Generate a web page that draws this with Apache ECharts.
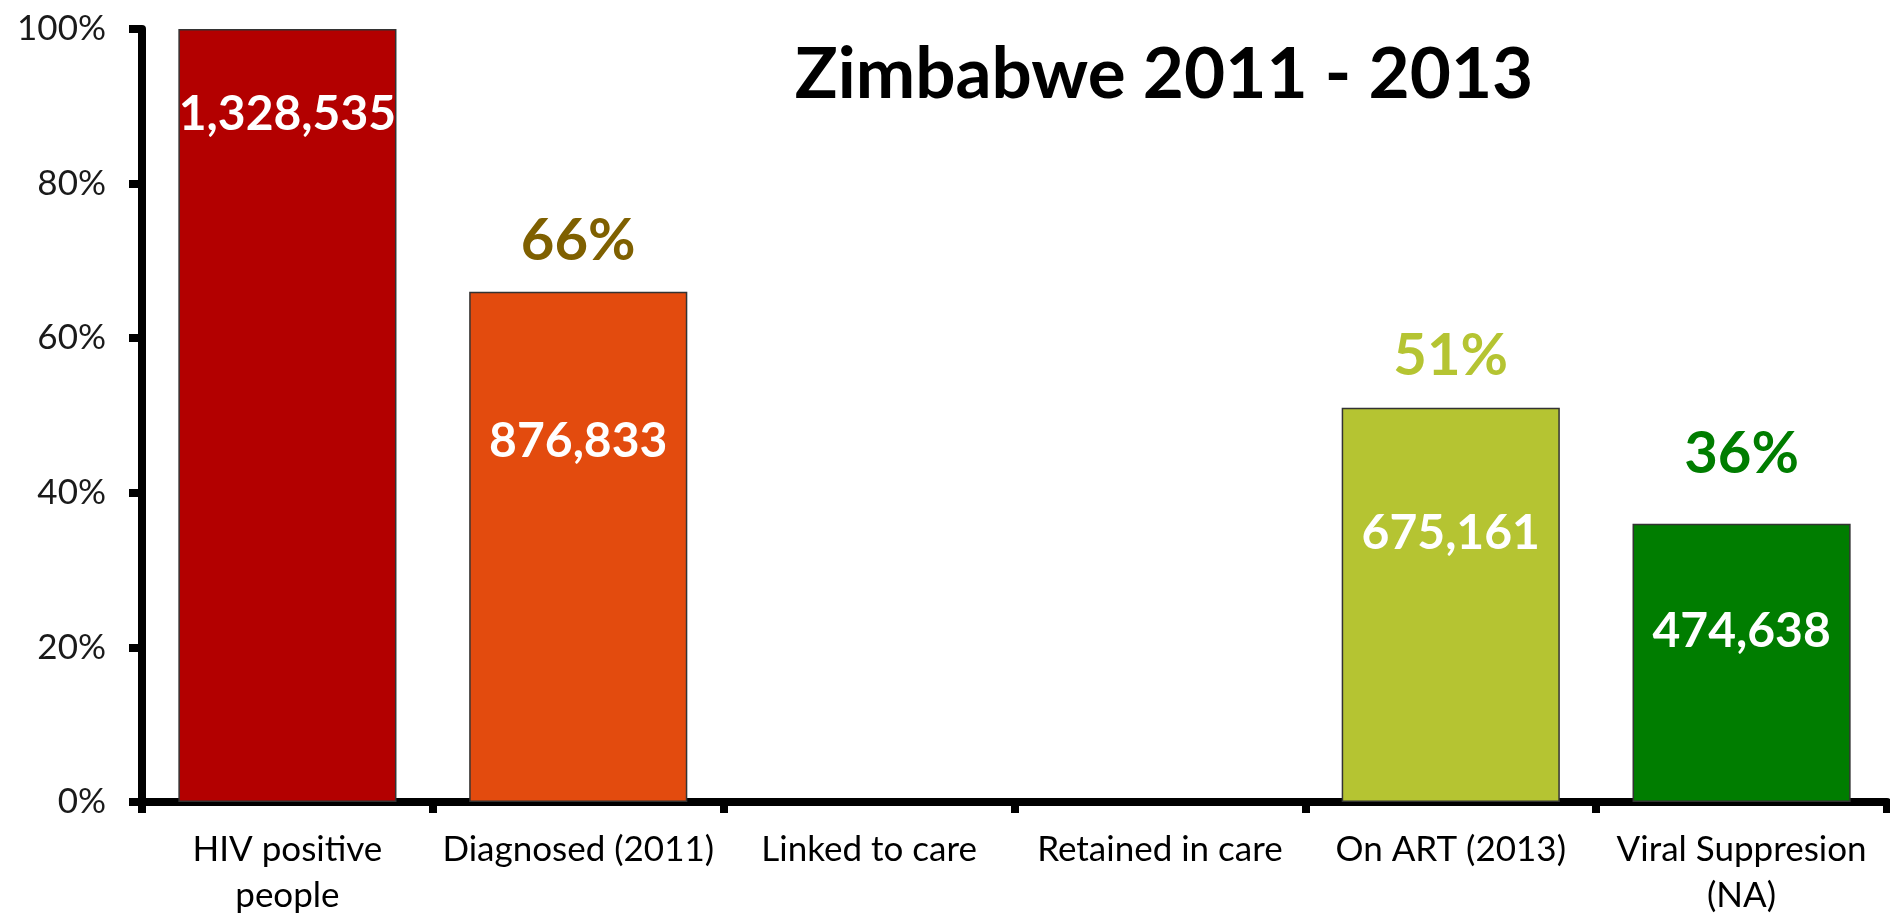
<!DOCTYPE html>
<html>
<head>
<meta charset="utf-8">
<title>Zimbabwe 2011 - 2013</title>
<script src="https://cdn.jsdelivr.net/npm/echarts@6/dist/echarts.min.js"></script>
<style>
  html, body { margin: 0; padding: 0; background: #fff; }
  #chart { width: 1890px; height: 919px; }
</style>
</head>
<body>
<div id="chart"></div>
<script>
// HIV care cascade, Zimbabwe 2011 - 2013
const categories = [
  'HIV positive\npeople',
  'Diagnosed (2011)',
  'Linked to care',
  'Retained in care',
  'On ART (2013)',
  'Viral Suppresion\n(NA)'
];
// share of all HIV positive people (%), no data for linkage / retention
const percentValues = [100, 66, null, null, 51, 36];
// number of people at each stage
const peopleCounts = [1328535, 876833, null, null, 675161, 474638];
// stages that carry a percentage above the bar
const showPercent = [false, true, false, false, true, true];
const yTicks = [0, 20, 40, 60, 80, 100];

// styling
const FONT = 'Lato';
const barColors = ['#B30000', '#E34B0E', '#999', '#999', '#B5C432', '#007D00'];
const percentColors = ['#000', '#7F6000', '#000', '#000', '#B5C432', '#007D00'];
const countLabelOffset = [86, 150, 0, 0, 126, 108];   // px below bar top
const percentLabelOffset = [0, -51, 0, 0, -51, -69];  // px from bar top

const fmtCount = v => v.toLocaleString('en-US');

const countData = percentValues.map((v, i) => ({
  value: v,
  itemStyle: { color: barColors[i] },
  label: {
    show: peopleCounts[i] != null,
    position: ['50%', countLabelOffset[i]],
    formatter: () => fmtCount(peopleCounts[i])
  }
}));

const percentData = percentValues.map((v, i) => ({
  value: v,
  label: {
    show: showPercent[i],
    position: ['50%', percentLabelOffset[i]],
    color: percentColors[i],
    formatter: () => Math.round(v) + '%'
  }
}));

const chart = echarts.init(document.getElementById('chart'), null, { renderer: 'canvas' });

chart.setOption({
  animation: false,
  backgroundColor: '#fff',
  grid: { left: 142, right: 3, top: 29, bottom: 115, containLabel: false },
  xAxis: {
    type: 'category',
    data: categories,
    axisLine: { show: true, lineStyle: { color: '#000', width: 8 } },
    axisTick: { show: true, length: 11, lineStyle: { color: '#000', width: 8 } },
    axisLabel: {
      interval: 0,
      margin: 25,
      fontFamily: FONT,
      fontSize: 35,
      lineHeight: 46,
      color: '#000'
    },
    splitLine: { show: false }
  },
  yAxis: {
    type: 'value',
    min: yTicks[0],
    max: yTicks[yTicks.length - 1],
    interval: yTicks[1] - yTicks[0],
    axisLine: { show: true, lineStyle: { color: '#000', width: 8 } },
    axisTick: { show: true, length: 13, lineStyle: { color: '#000', width: 8 } },
    axisLabel: {
      margin: 36,
      formatter: '{value}%',
      fontFamily: FONT,
      fontSize: 35,
      color: '#1a1a1a'
    },
    splitLine: { show: false }
  },
  graphic: [{
    type: 'text',
    x: 1164,
    y: 75,
    silent: true,
    style: {
      text: 'Zimbabwe 2011 - 2013',
      fontFamily: FONT,
      fontWeight: 'bold',
      fontSize: 71,
      fill: '#000',
      align: 'center',
      verticalAlign: 'middle'
    }
  }],
  series: [
    {
      type: 'bar',
      data: countData,
      barCategoryGap: '25%',
      itemStyle: { borderColor: '#333', borderWidth: 1.5 },
      label: {
        align: 'center',
        verticalAlign: 'middle',
        fontFamily: FONT,
        fontWeight: 'bold',
        fontSize: 48,
        color: '#fff'
      },
      z: 2
    },
    {
      type: 'bar',
      data: percentData,
      barGap: '-100%',
      barCategoryGap: '25%',
      silent: true,
      itemStyle: { color: 'rgba(0,0,0,0)' },
      label: {
        align: 'center',
        verticalAlign: 'middle',
        fontFamily: FONT,
        fontWeight: 'bold',
        fontSize: 58
      },
      z: 3
    }
  ]
});
</script>
</body>
</html>
